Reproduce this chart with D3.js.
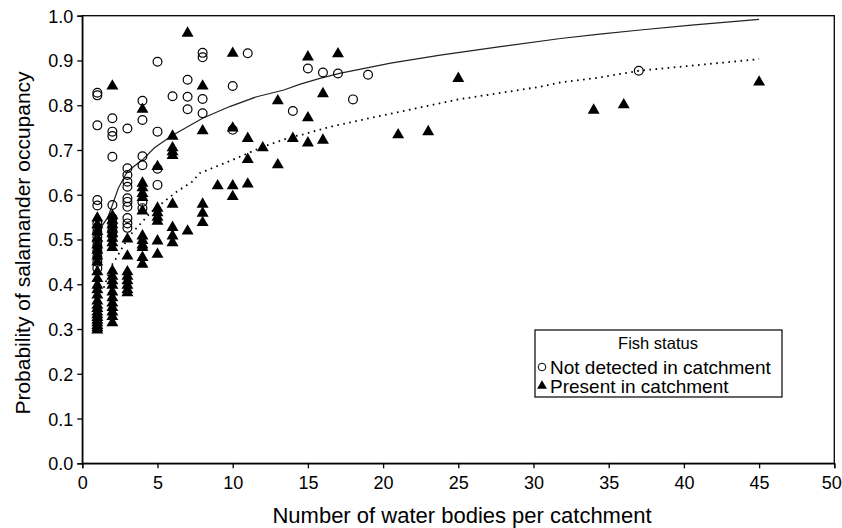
<!DOCTYPE html>
<html>
<head>
<meta charset="utf-8">
<script src="https://cdn.jsdelivr.net/npm/d3@7"></script>
<style>
  html, body { margin: 0; padding: 0; background: #fff; }
  svg { display: block; font-family: Arial, "Liberation Sans", sans-serif; }
</style>
</head>
<body>
<svg id="chart" width="842" height="528"></svg>
<script>
// ---- Data ----
const xTicks = [0, 5, 10, 15, 20, 25, 30, 35, 40, 45, 50];
const yTicks = [0, 0.1, 0.2, 0.3, 0.4, 0.5, 0.6, 0.7, 0.8, 0.9, 1.0];

// Fish not detected in catchment (open circles)
const notDetectedX = [1,1,1,1,1,1,1,1,1,1,1,1,1,1,1,
  2,2,2,2,2,2,2,2,2,
  3,3,3,3,3,3,3,3,3,3,3,
  4,4,4,4,4,4,
  5,5,5,5,
  6, 7,7,7, 8,8,8,8, 10,10, 11, 14, 15, 16, 17, 18, 19, 37];
const notDetectedY = [0.828,0.822,0.755,0.588,0.576,0.536,0.526,0.516,0.506,0.496,0.486,0.474,0.462,0.45,0.436,
  0.771,0.741,0.731,0.685,0.577,0.548,0.535,0.52,0.51,
  0.748,0.659,0.644,0.629,0.618,0.592,0.584,0.573,0.548,0.536,0.526,
  0.81,0.767,0.686,0.666,0.584,0.57,
  0.897,0.741,0.658,0.622,
  0.82, 0.857,0.819,0.791, 0.917,0.907,0.814,0.782, 0.843,0.745, 0.916, 0.787, 0.882, 0.873, 0.871, 0.813, 0.868, 0.877];

// Fish present in catchment (filled triangles)
const presentX = [1,1,1,1,1,1,1,1,1,1,1,1,1,1,1,1,1,1,1,1,1,1,1,1,
  2,2,2,2,2,2,2,2,2,2,2,2,2,2,2,2,2,2,2,2,
  3,3,3,3,3,3,3,3,
  4,4,4,4,4,4,4,4,4,4,4,4,
  5,5,5,5,5,5,5,
  6,6,6,6,6,6,6,6,
  7,7, 8,8,8,8,8, 9, 10,10,10,10, 11,11,11, 12, 13,13, 14, 15,15,15, 16,16, 17, 21, 23, 25, 34, 36, 45];
const presentY = [0.55,0.535,0.52,0.505,0.49,0.478,0.465,0.452,0.43,0.415,0.40,0.39,0.378,0.365,0.355,0.348,0.34,0.334,0.328,0.322,0.316,0.31,0.305,0.30,
  0.845,0.555,0.545,0.535,0.525,0.515,0.505,0.495,0.484,0.432,0.42,0.41,0.40,0.385,0.372,0.36,0.35,0.34,0.33,0.316,
  0.503,0.465,0.43,0.42,0.41,0.40,0.39,0.383,
  0.793,0.628,0.618,0.605,0.596,0.566,0.51,0.50,0.49,0.484,0.462,0.447,
  0.665,0.572,0.562,0.552,0.543,0.499,0.469,
  0.733,0.707,0.698,0.69,0.581,0.529,0.51,0.495,
  0.963,0.521, 0.845,0.745,0.581,0.561,0.54, 0.622, 0.918,0.751,0.622,0.598, 0.728,0.681,0.626, 0.707, 0.812,0.669, 0.728, 0.91,0.774,0.718, 0.828,0.724, 0.917, 0.736, 0.743, 0.862, 0.791, 0.803, 0.854];

// Fitted curves
const fitNotDetectedX = [1, 1.2, 1.7, 2, 2.4, 3, 4, 4.8, 6, 6.8, 8, 9.8, 11.6, 13.4, 14.5, 15.8, 17.1, 20.5, 23.8, 27.8, 31.8, 34.4, 37.1, 40.5, 45];
const fitNotDetectedY = [0.505, 0.525, 0.55, 0.577, 0.615, 0.652, 0.678, 0.705, 0.733, 0.748, 0.771, 0.797, 0.819, 0.834, 0.847, 0.86, 0.871, 0.894, 0.912, 0.931, 0.949, 0.959, 0.968, 0.979, 0.992];
const fitPresentX = [1, 1.2, 1.4, 2, 2.2, 2.7, 3.1, 4, 4.5, 5.3, 6.2, 7.3, 7.8, 10, 12, 14, 14.7, 16.5, 19.5, 25, 30.4, 31.8, 34.4, 37, 41, 45];
const fitPresentY = [0.37, 0.385, 0.39, 0.445, 0.455, 0.484, 0.507, 0.54, 0.559, 0.581, 0.605, 0.629, 0.648, 0.678, 0.707, 0.73, 0.735, 0.752, 0.774, 0.813, 0.841, 0.851, 0.862, 0.877, 0.89, 0.903];

// ---- Chart ----
const svg = d3.select("#chart");
const m = { left: 82.3, right: 834.3, top: 15.7, bottom: 463.3 };
const x = d3.scaleLinear().domain([0, 50]).range([m.left, m.right]);
const y = d3.scaleLinear().domain([0, 1]).range([m.bottom, m.top]);

// frame
svg.append("rect")
  .attr("x", m.left).attr("y", m.top)
  .attr("width", m.right - m.left).attr("height", m.bottom - m.top)
  .attr("fill", "none").attr("stroke", "#000").attr("stroke-width", 1.3);

// axes
const xAxis = svg.append("g").attr("transform", `translate(0,${m.bottom})`)
  .call(d3.axisBottom(x).tickValues(xTicks).tickFormat(d3.format("d")).tickSizeOuter(0).tickSize(5));
const yAxis = svg.append("g").attr("transform", `translate(${m.left},0)`)
  .call(d3.axisLeft(y).tickValues(yTicks).tickFormat(d3.format(".1f")).tickSizeOuter(0).tickSize(5));
[xAxis, yAxis].forEach(g => {
  g.select(".domain").attr("stroke", "#000").attr("stroke-width", 1.3);
  g.selectAll(".tick line").attr("stroke", "#000").attr("stroke-width", 1.3);
  g.selectAll(".tick text").attr("fill", "#000")
    .style("font-size", "18px").style("font-family", "Arial, 'Liberation Sans', sans-serif");
});
xAxis.selectAll(".tick text").attr("dy", "0").attr("y", 26)
  .attr("x", d => d === 50 ? -3 : 0);
yAxis.selectAll(".tick text").attr("x", -9).attr("dy", "0.36em");

// axis titles
svg.append("text").attr("x", 462).attr("y", 523)
  .attr("text-anchor", "middle").style("font-size", "22px").text("Number of water bodies per catchment");
svg.append("text").attr("transform", `translate(30,243) rotate(-90)`)
  .attr("text-anchor", "middle").style("font-size", "21px").text("Probability of salamander occupancy");

// fitted curves
const line = d3.line().x(d => x(d[0])).y(d => y(d[1]));
svg.append("path").datum(d3.zip(fitNotDetectedX, fitNotDetectedY))
  .attr("d", line).attr("fill", "none").attr("stroke", "#222").attr("stroke-width", 1.2);
svg.append("path").datum(d3.zip(fitPresentX, fitPresentY))
  .attr("d", line).attr("fill", "none").attr("stroke", "#000").attr("stroke-width", 1.8)
  .attr("stroke-dasharray", "1.6,4.5");

// points
const tri = d3.symbol().type(d3.symbolTriangle).size(62);
svg.append("g").selectAll("path").data(d3.zip(presentX, presentY)).join("path")
  .attr("d", tri)
  .attr("transform", d => `translate(${x(d[0])},${y(d[1]) + 1})`)
  .attr("fill", "#000");
svg.append("g").selectAll("circle").data(d3.zip(notDetectedX, notDetectedY)).join("circle")
  .attr("cx", d => x(d[0])).attr("cy", d => y(d[1])).attr("r", 4.4)
  .attr("fill", "none").attr("stroke", "#000").attr("stroke-width", 1.2);

// legend
const lg = svg.append("g");
lg.append("rect").attr("x", 535).attr("y", 330).attr("width", 247).attr("height", 67)
  .attr("fill", "#fff").attr("stroke", "#000").attr("stroke-width", 1.2);
lg.append("text").attr("x", 658).attr("y", 349).attr("text-anchor", "middle")
  .style("font-size", "16.5px").text("Fish status");
lg.append("circle").attr("cx", 542).attr("cy", 367).attr("r", 3.8)
  .attr("fill", "none").attr("stroke", "#000").attr("stroke-width", 1);
lg.append("text").attr("x", 550).attr("y", 373.5).style("font-size", "19px").text("Not detected in catchment");
lg.append("path").attr("d", d3.symbol().type(d3.symbolTriangle).size(42))
  .attr("transform", "translate(542,386)").attr("fill", "#000");
lg.append("text").attr("x", 550).attr("y", 392.5).style("font-size", "19px").text("Present in catchment");
</script>
</body>
</html>
